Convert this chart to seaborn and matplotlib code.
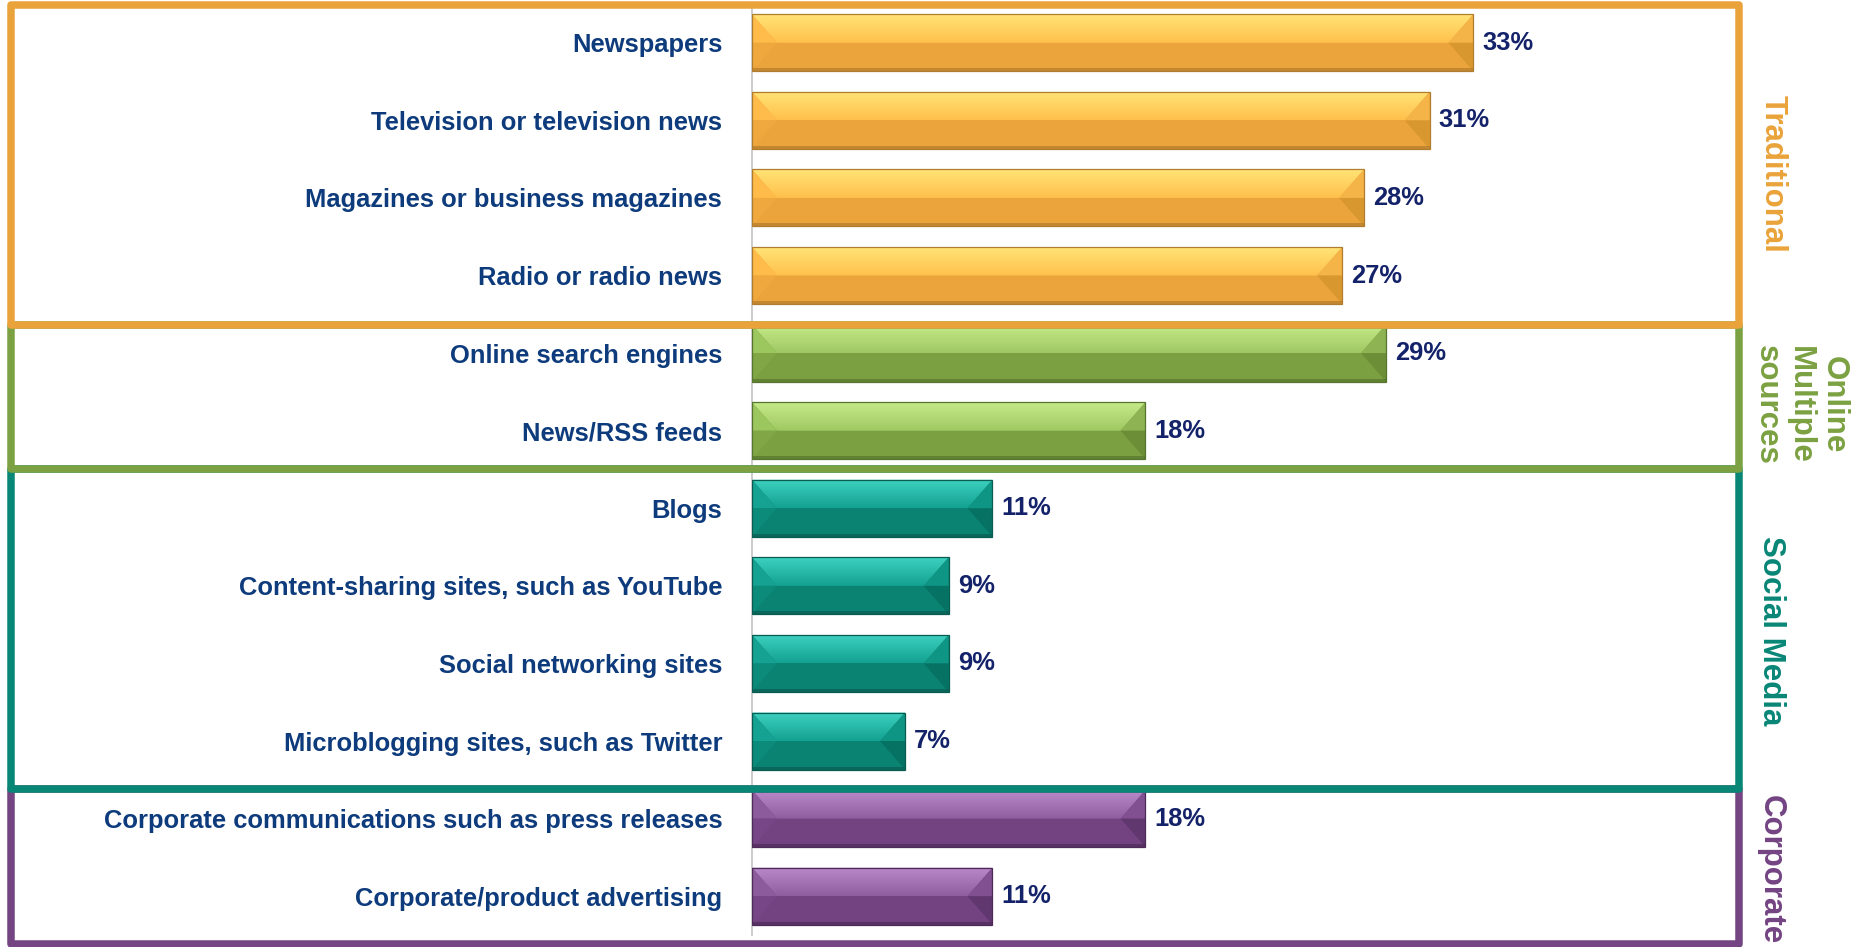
import numpy as np
import pandas as pd
import matplotlib
matplotlib.use("Agg")
import matplotlib.pyplot as plt
import seaborn as sns
from matplotlib.patches import Polygon, Rectangle

# ---- data -------------------------------------------------------------
categories = [
    "Newspapers",
    "Television or television news",
    "Magazines or business magazines",
    "Radio or radio news",
    "Online search engines",
    "News/RSS feeds",
    "Blogs",
    "Content-sharing sites, such as YouTube",
    "Social networking sites",
    "Microblogging sites, such as Twitter",
    "Corporate communications such as press releases",
    "Corporate/product advertising",
]
values = [33, 31, 28, 27, 29, 18, 11, 9, 9, 7, 18, 11]
groups = [
    "Traditional", "Traditional", "Traditional", "Traditional",
    "Online", "Online",
    "Social Media", "Social Media", "Social Media", "Social Media",
    "Corporate", "Corporate",
]
group_order = ["Traditional", "Online", "Social Media", "Corporate"]
group_titles = ["Traditional", "Online\nMultiple\nsources", "Social Media", "Corporate"]

# ---- style ------------------------------------------------------------
W, H, DPI = 1854, 947, 100
LABEL_COLOR = "#0D3B7C"
VALUE_COLOR = "#14226A"
AXIS_GRAY = "#C4C4C4"

shades = {
    "Traditional": dict(main="#EBA43B", top_hi="#FFE476", top_lo="#FFC04C",
                        left_hi="#FFBC4A", left_lo="#EFA83D",
                        right_hi="#F5B447", right_lo="#D9982F",
                        edge="#B27C2E", box="#EAA33A"),
    "Online": dict(main="#7BA042", top_hi="#C6EA8A", top_lo="#9FC862",
                   left_hi="#9CC65E", left_lo="#80A646",
                   right_hi="#8DB352", right_lo="#6B8E37",
                   edge="#56752E", box="#7BA142"),
    "Social Media": dict(main="#0A8373", top_hi="#3DD1C0", top_lo="#14A292",
                         left_hi="#16A293", left_lo="#0C8A7A",
                         right_hi="#0F9584", right_lo="#067264",
                         edge="#0A5C52", box="#088676"),
    "Corporate": dict(main="#734381", top_hi="#B98AC9", top_lo="#8E5E9F",
                      left_hi="#8C5B9C", left_lo="#774686",
                      right_hi="#815091", right_lo="#613770",
                      edge="#4D2B59", box="#744483"),
}
palette = {g: shades[g]["main"] for g in group_order}

sns.set_theme(style="white")
plt.rcParams["font.family"] = ["Liberation Sans", "DejaVu Sans"]

df = pd.DataFrame({"category": categories, "value": values, "group": groups})

fig = plt.figure(figsize=(W / DPI, H / DPI), dpi=DPI)
fig.patch.set_facecolor("white")

ax_left, ax_right, ax_top, ax_bottom = 752, 1739, 4, 935
ax = fig.add_axes([ax_left / W, 1 - ax_bottom / H,
                   (ax_right - ax_left) / W, (ax_bottom - ax_top) / H])
ax.set_facecolor("white")

sns.barplot(data=df, x="value", y="category", hue="group", palette=palette,
            hue_order=group_order, orient="h", width=0.735, dodge=False,
            saturation=1, legend=False, edgecolor="none", ax=ax)

px_per_unit = 21.86
xmax = (ax_right - ax_left) / px_per_unit
ax.set_xlim(0, xmax)
ax.set_ylim(len(categories) - 0.5, -0.5)

sx = px_per_unit
sy = (ax_bottom - ax_top) / len(categories)
d = 25 / sx  # horizontal bevel inset

# bevelled overlay for each bar
for p in list(ax.patches):
    w = p.get_width()
    if w <= 0:
        continue
    x0, y, h = p.get_x(), p.get_y(), p.get_height()
    x1 = x0 + w
    top, bot, mid = y, y + h, y + h / 2
    idx = int(round(mid))
    s = shades[groups[idx]]

    # top face with vertical gradient
    hi = np.array(matplotlib.colors.to_rgb(s["top_hi"]))
    lo = np.array(matplotlib.colors.to_rgb(s["top_lo"]))
    t = np.linspace(0, 1, 64)[:, None]
    grad = (hi * (1 - t) + lo * t)[:, None, :]
    im = ax.imshow(grad, extent=(x0, x1, mid, top), origin="upper",
                   aspect="auto", interpolation="bilinear", zorder=3)
    clip = Polygon([(x0, top), (x1, top), (x1 - d, mid), (x0 + d, mid)],
                   closed=True, transform=ax.transData)
    im.set_clip_path(clip)

    tris = [
        ([(x0, top), (x0 + d, mid), (x0, mid)], s["left_hi"]),
        ([(x0, mid), (x0 + d, mid), (x0, bot)], s["left_lo"]),
        ([(x1, top), (x1 - d, mid), (x1, mid)], s["right_hi"]),
        ([(x1, mid), (x1 - d, mid), (x1, bot)], s["right_lo"]),
    ]
    for verts, col in tris:
        ax.add_patch(Polygon(verts, closed=True, facecolor=col,
                             edgecolor="none", zorder=3.5))
    ax.add_patch(Rectangle((x0, bot - 3 / sy), w, 3 / sy, facecolor=s["edge"],
                           edgecolor="none", alpha=0.7, zorder=3.6))
    ax.add_patch(Rectangle((x0, top), w, h, fill=False, edgecolor=s["edge"],
                           linewidth=0.9, zorder=4))

# value labels
for i, v in enumerate(values):
    ax.text(v + 9 / sx, i, f"{v}%", ha="left", va="center",
            fontsize=18.4, fontweight="bold", color=VALUE_COLOR, zorder=6)

ax.set_xlabel("")
ax.set_ylabel("")
ax.set_xticks([])
ax.tick_params(axis="y", length=0, pad=21.5, labelsize=18.4,
               labelcolor=LABEL_COLOR)
for lab in ax.get_yticklabels():
    lab.set_fontweight("bold")
for side in ("top", "right", "bottom"):
    ax.spines[side].set_visible(False)
ax.spines["left"].set_color(AXIS_GRAY)
ax.spines["left"].set_linewidth(1.2)

# group frames (pixel rows), drawn bottom-up so upper frames overlap
frame_rows = {"Traditional": (5, 325), "Online": (325, 469),
              "Social Media": (469, 789), "Corporate": (789, 943.5)}
frame_left, frame_right = 11, 1739
for g in reversed(group_order):
    y_top, y_bot = frame_rows[g]
    rect = Rectangle((frame_left / W, 1 - y_bot / H),
                     (frame_right - frame_left) / W, (y_bot - y_top) / H,
                     transform=fig.transFigure, fill=False,
                     edgecolor=shades[g]["box"], linewidth=5.4,
                     joinstyle="round", clip_on=False, zorder=10)
    fig.add_artist(rect)

# side titles for each group
title_pos = {"Traditional": (1773, 174), "Online": (1800, 405),
             "Social Media": (1771, 631), "Corporate": (1771, 870)}
for g, title in zip(group_order, group_titles):
    xp, yp = title_pos[g]
    fig.text(xp / W, 1 - yp / H, title, rotation=-90, ha="center",
             va="center", multialignment="center", fontsize=22.5,
             fontweight="bold", color=shades[g]["box"], linespacing=1.15)

fig.savefig("out.png", dpi=DPI, facecolor="white")
